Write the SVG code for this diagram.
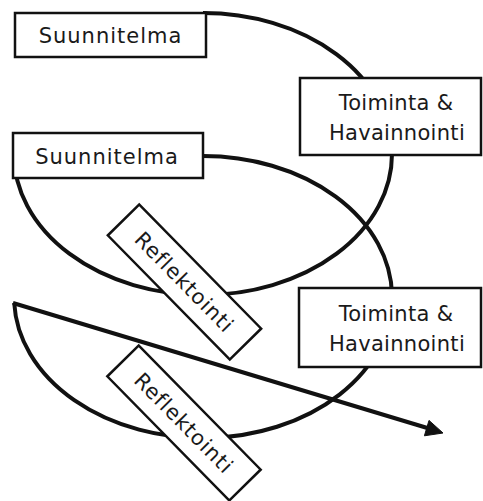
<svg xmlns="http://www.w3.org/2000/svg" width="483" height="501" viewBox="0 0 483 501">
<style>
.curve{fill:none;stroke:#111;stroke-width:4;stroke-linejoin:miter}
.head{fill:#111;stroke:#111;stroke-width:1;stroke-linejoin:miter}
.box{fill:#fff;stroke:#111;stroke-width:2.5}
.t{font-family:"DejaVu Sans","Liberation Sans",sans-serif;font-size:21px;fill:#1a1a1a;text-anchor:middle}
</style>
<rect width="483" height="501" fill="#fff"/>
<g id="connectors">
<path class="curve" d="M203,13 A189,141 0 1 1 14,154"/>
<path class="curve" d="M203,156 A189,141 0 1 1 14.2,303"/>
<path class="curve" d="M13,303 L429,428.5"/>
<polygon class="head" points="443,433 429,420.4 424.4,435.8"/>
</g>
<g id="suunnitelma1">
<rect class="box" x="15" y="13" width="191" height="44"/>
<text class="t" x="110.5" y="42.5" letter-spacing="1">Suunnitelma</text>
</g>
<g id="toiminta1">
<rect class="box" x="300" y="78" width="181" height="77"/>
<text class="t" x="396" y="110" letter-spacing="0.3">Toiminta &amp;</text>
<text class="t" x="397" y="140" letter-spacing="0.3">Havainnointi</text>
</g>
<g id="suunnitelma2">
<rect class="box" x="13" y="133" width="190" height="45"/>
<text class="t" x="107" y="164" letter-spacing="1">Suunnitelma</text>
</g>
<g id="reflektointi1" transform="translate(184.5,282) rotate(45.5)">
<rect class="box" x="-87" y="-22" width="174" height="44"/>
<text class="t" x="0" y="7.5" letter-spacing="1">Reflektointi</text>
</g>
<g id="toiminta2">
<rect class="box" x="299" y="288" width="182" height="79"/>
<text class="t" x="396" y="321" letter-spacing="0.3">Toiminta &amp;</text>
<text class="t" x="397" y="351" letter-spacing="0.3">Havainnointi</text>
</g>
<g id="reflektointi2" transform="translate(184,423) rotate(45.5)">
<rect class="box" x="-87" y="-22" width="174" height="44"/>
<text class="t" x="0" y="7.5" letter-spacing="1">Reflektointi</text>
</g>
</svg>
